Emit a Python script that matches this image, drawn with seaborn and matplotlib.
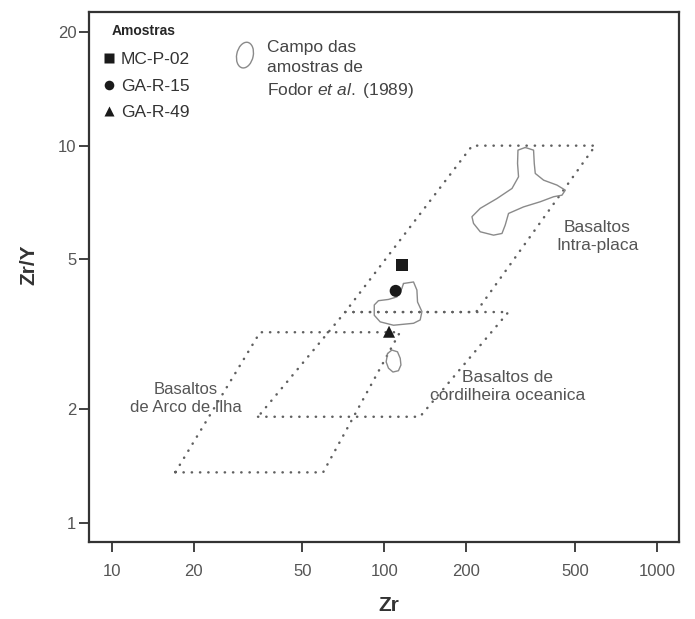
import matplotlib
matplotlib.use("Agg")
import matplotlib.pyplot as plt
import pandas as pd
import seaborn as sns
from matplotlib.patches import Ellipse

# Sample points (Zr ppm, Zr/Y)
sample_names = ["MC-P-02", "GA-R-15", "GA-R-49"]
sample_zr = [116, 110, 104]
sample_zry = [4.82, 4.12, 3.21]
sample_markers = {"MC-P-02": "s", "GA-R-15": "o", "GA-R-49": "^"}

# Discrimination fields (corners, Zr and Zr/Y)
arc_zr = [17.1, 59.6, 114, 35.0]
arc_zry = [1.36, 1.36, 3.20, 3.20]
morb_zr = [34.4, 135, 285, 71.8]
morb_zry = [1.91, 1.91, 3.62, 3.62]
wpb_zr = [71.8, 217, 594, 210]
wpb_zry = [3.62, 3.62, 10.0, 10.0]

# Fields of the Fodor et al. (1989) samples
fodor_big_zr = [328.6, 352.5, 354.6, 357.6, 383.7, 429.5, 460.8, 448.1, 417.4, 373.1,
                323.9, 285.3, 277.5, 270.0, 251.4, 224.7, 212.3, 209.5, 224.7, 258.7,
                293.8, 310.5, 307.9, 309.0]
fodor_big_zry = [9.89, 9.73, 8.97, 8.44, 8.10, 7.86, 7.62, 7.39, 7.32, 7.10,
                 6.88, 6.61, 6.16, 5.85, 5.79, 5.91, 6.22, 6.48, 6.82, 7.24,
                 7.70, 8.27, 8.97, 9.73]
fodor_mid_zr = [117.5, 127.9, 131.6, 132.3, 137.3, 135.3, 127.9, 108.0, 96.5, 91.8,
                91.8, 95.1, 103.5, 111.1, 115.9]
fodor_mid_zry = [4.31, 4.35, 4.14, 3.85, 3.63, 3.45, 3.38, 3.34, 3.41, 3.55,
                 3.78, 3.88, 3.91, 3.97, 4.18]
fodor_small_zr = [102.7, 106.5, 111.7, 114.3, 115.0, 112.6, 107.5, 103.5, 101.5]
fodor_small_zry = [2.81, 2.87, 2.84, 2.73, 2.62, 2.53, 2.51, 2.57, 2.67]

x_ticks = [10, 20, 50, 100, 200, 500, 1000]
y_ticks = [1, 2, 5, 10, 20]

sns.set_style("ticks")
plt.rcParams["font.family"] = ["Liberation Sans", "DejaVu Sans"]
plt.rcParams["mathtext.fontset"] = "custom"
plt.rcParams["mathtext.rm"] = "Liberation Sans"
plt.rcParams["mathtext.it"] = "Liberation Sans:italic"

fig = plt.figure(figsize=(6.95, 6.19), dpi=100)
ax = fig.add_axes([0.128, 0.1244, 0.849, 0.856])
ax.set_xscale("log")
ax.set_yscale("log")

dot = dict(color="#606060", lw=1.8, linestyle=(0, (0.1, 3.2)), dash_capstyle="round")
for xs, ys in [(arc_zr, arc_zry), (morb_zr, morb_zry), (wpb_zr, wpb_zry)]:
    ax.plot(xs + xs[:1], ys + ys[:1], **dot)

for xs, ys in [(fodor_big_zr, fodor_big_zry), (fodor_mid_zr, fodor_mid_zry),
               (fodor_small_zr, fodor_small_zry)]:
    ax.plot(xs + xs[:1], ys + ys[:1], color="#8a8a8a", lw=1.0)

df = pd.DataFrame({"Zr": sample_zr, "ZrY": sample_zry, "Amostra": sample_names})
sns.scatterplot(data=df, x="Zr", y="ZrY", style="Amostra", markers=sample_markers,
                color="#1a1a1a", s=75, edgecolor="none", ax=ax, zorder=5)

handles, labels = ax.get_legend_handles_labels()
leg = ax.legend(handles, labels, title="Amostras", loc="upper left",
                bbox_to_anchor=(-0.005, 1.0), frameon=False, fontsize=12.5,
                handletextpad=0.1, labelspacing=0.65, handlelength=1.2, markerscale=0.8,
                borderaxespad=0.3, title_fontproperties={"weight": "bold", "size": 10})
leg._legend_box.sep = 10
for t in leg.get_texts():
    t.set_color("#333333")

ax.set_xlim(8.25, 1204)
ax.set_ylim(0.889, 22.6)
ax.set_xticks(x_ticks)
ax.set_xticklabels([str(v) for v in x_ticks])
ax.set_yticks(y_ticks)
ax.set_yticklabels([str(v) for v in y_ticks])
ax.minorticks_off()
ax.tick_params(axis="both", length=7, width=1.3, color="#333333",
               labelsize=12, labelcolor="#555555")
ax.tick_params(axis="x", pad=9)
ax.tick_params(axis="y", pad=2)
for sp in ax.spines.values():
    sp.set_linewidth(1.6)
    sp.set_color("#333333")

ax.set_xlabel("Zr", fontsize=15, fontweight="bold", color="#333333")
ax.set_ylabel("Zr/Y", fontsize=15, fontweight="bold", color="#333333")
ax.xaxis.set_label_coords(0.508, -0.102)
ax.yaxis.set_label_coords(-0.085, 0.523)

txt = dict(fontsize=12.5, color="#555555", ha="center", va="center", linespacing=1.25)
ax.text(604, 5.75, "Basaltos\nIntra-placa", **txt)
ax.text(282, 2.30, "Basaltos de\ncordilheira oceanica", **txt)
ax.text(18.7, 2.14, "Basaltos\nde Arco de Ilha", **dict(txt, fontsize=12))

ax.add_patch(Ellipse((0.2644, 0.9189), 0.028, 0.049, angle=-10, transform=ax.transAxes,
                     fill=False, edgecolor="#8a8a8a", lw=1.0))
ax.text(0.302, 0.891, "Campo das\namostras de\nFodor $\\mathit{et\\ al.}$ (1989)",
        transform=ax.transAxes, fontsize=12.5, color="#444444", ha="left", va="center",
        linespacing=1.4)

fig.savefig("out.png", dpi=100)
